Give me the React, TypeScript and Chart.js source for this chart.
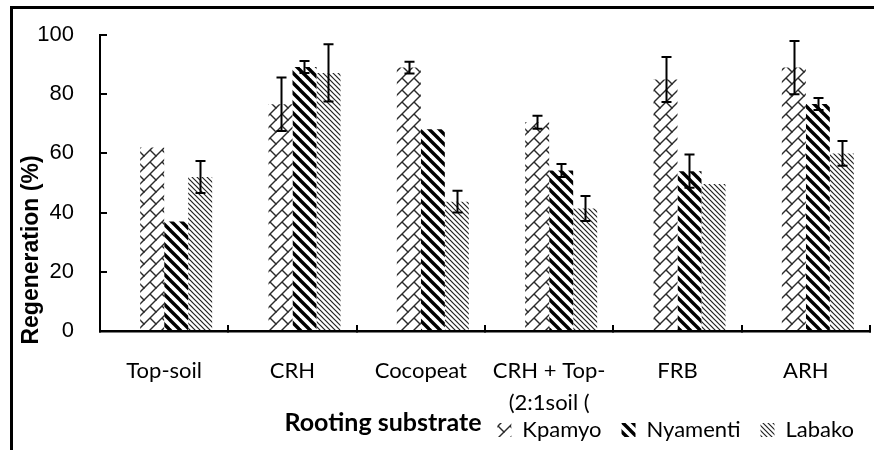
import React, { useEffect, useRef } from 'react';
import { Chart, registerables } from 'chart.js';

Chart.register(...registerables);

// ---------- data ----------
const categories: string[][] = [
  ['Top-soil'],
  ['CRH'],
  ['Cocopeat'],
  ['CRH + Top-', '(2:1soil ('],
  ['FRB'],
  ['ARH'],
];
const seriesNames = ['Kpamyo', 'Nyamenti', 'Labako'];
const kpamyo = [62, 76.6, 89, 70.5, 85, 89];
const nyamenti = [37, 89.2, 68.2, 54.2, 54, 76.7];
const labako = [52, 87.2, 43.7, 41.4, 49.7, 60];
const kpamyoErr: (number | null)[] = [null, 9, 2, 2.2, 7.6, 9];
const nyamentiErr: (number | null)[] = [null, 2, null, 2.2, 5.6, 2];
const labakoErr: (number | null)[] = [5.4, 9.7, 3.7, 4.2, null, 4.2];
const yTicks = [0, 20, 40, 60, 80, 100];
const yTitle = 'Regeneration (%)';
const xTitle = 'Rooting substrate';

const NARROW = 'Lato, "Noto Sans", sans-serif';
const ARIAL = '"Liberation Sans", Arial, sans-serif';

function makePattern(kind: string): CanvasPattern | string {
  const c = document.createElement('canvas');
  const g = c.getContext('2d');
  if (!g) return '#888';
  if (kind === 'brick') {
    const s = 12;
    c.width = s; c.height = s;
    g.fillStyle = '#fff'; g.fillRect(0, 0, s, s);
    g.strokeStyle = '#2a2a2a'; g.lineWidth = 1.4;
    for (const k of [-s, 0, s]) {
      g.beginPath(); g.moveTo(k - 2, s + 2); g.lineTo(k + s + 2, -2); g.stroke();
    }
    g.beginPath(); g.moveTo(s / 2, s / 2); g.lineTo(s + 1, s + 1); g.stroke();
    g.beginPath(); g.moveTo(-1, -1); g.lineTo(0.5, 0.5); g.stroke();
  } else if (kind === 'wide') {
    const s = 10;
    c.width = s; c.height = s;
    g.fillStyle = '#fff'; g.fillRect(0, 0, s, s);
    g.strokeStyle = '#000'; g.lineWidth = 3.4;
    for (const k of [-s, 0, s]) {
      g.beginPath(); g.moveTo(-2, -2 + k); g.lineTo(s + 2, s + 2 + k); g.stroke();
    }
  } else {
    const s = 5;
    c.width = s; c.height = s;
    g.fillStyle = '#fff'; g.fillRect(0, 0, s, s);
    g.strokeStyle = '#222'; g.lineWidth = 1.2;
    for (const k of [-s, 0, s]) {
      g.beginPath(); g.moveTo(-2, -2 + k); g.lineTo(s + 2, s + 2 + k); g.stroke();
    }
  }
  const p = g.createPattern(c, 'repeat');
  return p || '#888';
}

const errorsByDataset: (number | null)[][] = [[], kpamyoErr, nyamentiErr, labakoErr];

const errorBarPlugin = {
  id: 'errorBars',
  afterDatasetsDraw(chart: any) {
    const ctx = chart.ctx;
    const yScale = chart.scales.y;
    ctx.save();
    ctx.strokeStyle = '#000';
    ctx.lineWidth = 2;
    for (let d = 1; d < chart.data.datasets.length; d++) {
      const meta = chart.getDatasetMeta(d);
      const vals = chart.data.datasets[d].data as number[];
      const errs = errorsByDataset[d];
      meta.data.forEach((el: any, i: number) => {
        const e = errs[i];
        if (e == null) return;
        const v = vals[i];
        const x = Math.round(el.x) + 0.5;
        const yT = yScale.getPixelForValue(v + e);
        const yB = yScale.getPixelForValue(v - e);
        const cap = 5;
        ctx.beginPath();
        ctx.moveTo(x, yT); ctx.lineTo(x, yB);
        ctx.moveTo(x - cap, yT); ctx.lineTo(x + cap, yT);
        ctx.moveTo(x - cap, yB); ctx.lineTo(x + cap, yB);
        ctx.stroke();
      });
    }
    ctx.restore();
  },
};

const titlesPlugin = {
  id: 'titles',
  afterDraw(chart: any) {
    const ctx = chart.ctx;
    ctx.save();
    ctx.fillStyle = '#000';
    ctx.font = `bold 23px ${ARIAL}`;
    ctx.textAlign = 'center';
    ctx.textBaseline = 'middle';
    ctx.translate(32, 250);
    ctx.rotate(-Math.PI / 2);
    ctx.fillText(yTitle, 0, 0);
    ctx.restore();

    ctx.save();
    ctx.fillStyle = '#000';
    ctx.font = `bold 25px ${NARROW}`;
    ctx.textAlign = 'center';
    ctx.textBaseline = 'middle';
    ctx.fillText(xTitle, 383, 423);
    ctx.restore();
  },
};

export default function App() {
  const ref = useRef<HTMLCanvasElement | null>(null);

  useEffect(() => {
    if (!ref.current) return;
    const patterns = [makePattern('brick'), makePattern('wide'), makePattern('thin')];
    const series = [kpamyo, nyamenti, labako];
    const datasets: any[] = [
      {
        label: '',
        data: categories.map(() => null),
        backgroundColor: 'rgba(0,0,0,0)',
        borderWidth: 0,
        categoryPercentage: 0.748,
        barPercentage: 1,
      },
      ...series.map((s, i) => ({
        label: seriesNames[i],
        data: s,
        backgroundColor: patterns[i],
        borderWidth: 0,
        categoryPercentage: 0.748,
        barPercentage: 1,
      })),
    ];

    const chart = new Chart(ref.current, {
      type: 'bar',
      data: { labels: categories, datasets },
      options: {
        animation: false,
        responsive: false,
        devicePixelRatio: 1,
        layout: { padding: { top: 35, right: 0, left: 0, bottom: -1 } },
        plugins: {
          legend: {
            display: true,
            position: 'bottom',
            align: 'end',
            labels: {
              filter: (item: any) => item.datasetIndex !== 0,
              boxWidth: 14,
              boxHeight: 14,
              padding: 20,
              color: '#000',
              font: { family: NARROW, size: 22 },
            },
          },
          tooltip: { enabled: false },
        },
        scales: {
          x: {
            type: 'category',
            offset: true,
            grid: {
              display: true,
              offset: true,
              drawOnChartArea: false,
              drawTicks: true,
              tickLength: -6,
              color: '#000',
              lineWidth: 2,
            },
            border: { display: true, color: '#000', width: 2.5 },
            ticks: {
              color: '#000',
              font: { family: NARROW, size: 22, lineHeight: 1.45 },
              padding: 30,
              maxRotation: 0,
              autoSkip: false,
            },
            afterFit: (scale: any) => {
              scale.height = 68;
              scale.paddingLeft = 0;
              scale.paddingRight = 4;
              // let the two-line label extend below the scale box
              scale._computeLabelArea = () => undefined;
            },
          },
          y: {
            min: 0,
            max: 100,
            afterBuildTicks: (scale: any) => { scale.ticks = yTicks.map((v) => ({ value: v })); },
            grid: {
              display: true,
              drawOnChartArea: false,
              drawTicks: true,
              tickLength: -7,
              color: '#000',
              lineWidth: 2,
            },
            border: { display: true, color: '#000', width: 2 },
            ticks: {
              color: '#000',
              font: { family: ARIAL, size: 22 },
              padding: 33,
            },
            afterFit: (scale: any) => {
              scale.width = 100;
              scale.paddingTop = 0;
              scale.paddingBottom = 0;
            },
          },
        },
      },
      plugins: [errorBarPlugin, titlesPlugin],
    });
    return () => chart.destroy();
  }, []);

  return (
    <div style={{ position: 'fixed', left: 0, top: 0, width: 874, height: 450, overflow: 'hidden', background: '#fff' }}>
      <div
        style={{
          position: 'absolute',
          left: 10,
          top: 6,
          width: 900,
          height: 500,
          borderLeft: '3px solid #000',
          borderTop: '3px solid #000',
        }}
      />
      <canvas ref={ref} width={874} height={450} style={{ position: 'absolute', left: 0, top: 0 }} />
    </div>
  );
}
